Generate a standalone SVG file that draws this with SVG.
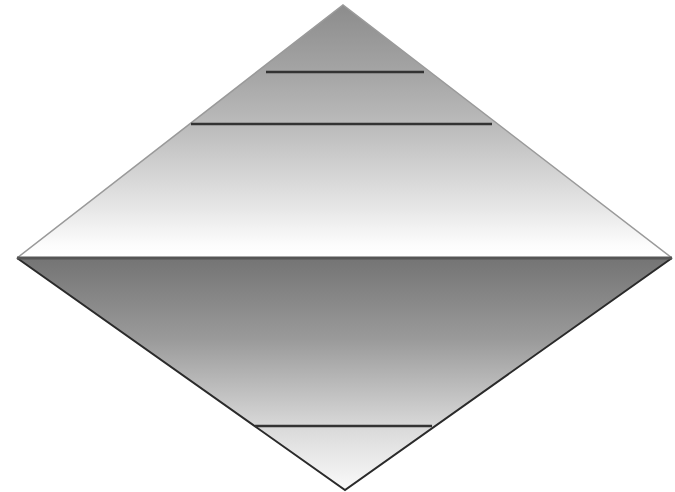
<svg xmlns="http://www.w3.org/2000/svg" width="675" height="492" viewBox="0 0 675 492">
<defs>
<linearGradient id="gTop" gradientUnits="userSpaceOnUse" x1="0" y1="5" x2="0" y2="258">
<stop offset="0" stop-color="#8c8c8c"/>
<stop offset="0.3" stop-color="#a8a8a8"/>
<stop offset="0.5" stop-color="#bebebe"/>
<stop offset="0.8" stop-color="#e6e6e6"/>
<stop offset="0.95" stop-color="#fcfcfc"/>
<stop offset="1" stop-color="#ffffff"/>
</linearGradient>
<linearGradient id="gBot" gradientUnits="userSpaceOnUse" x1="0" y1="258" x2="0" y2="490">
<stop offset="0" stop-color="#747474"/>
<stop offset="0.35" stop-color="#9a9a9a"/>
<stop offset="0.7" stop-color="#d4d4d4"/>
<stop offset="0.72" stop-color="#d8d8d8"/>
<stop offset="1" stop-color="#fafafa"/>
</linearGradient>
<style>
.band{stroke:#333;stroke-width:2.5;fill:none}
.edgeTop{stroke:#9a9a9a;stroke-width:1.5;fill:none}
.edgeBot{stroke:#2a2a2a;stroke-width:2;fill:none}
</style>
</defs>
<rect width="675" height="492" fill="#ffffff"/>
<g id="upper">
<polygon points="343,5 672,258 17,258" fill="url(#gTop)"/>
<polyline class="edgeTop" points="17,258 343,5 672,258"/>
</g>
<g id="lower">
<polygon points="17,258 672,258 345,490" fill="url(#gBot)"/>
<polyline class="edgeBot" points="17,258 345,490 672,258"/>
</g>
<g id="bands">
<line class="band" x1="266" y1="72" x2="424" y2="72"/>
<line class="band" x1="191" y1="124" x2="492" y2="124"/>
<line x1="17" y1="258" x2="672" y2="258" stroke="#555" stroke-width="3"/>
<line class="band" x1="255" y1="426" x2="432" y2="426"/>
</g>
</svg>
